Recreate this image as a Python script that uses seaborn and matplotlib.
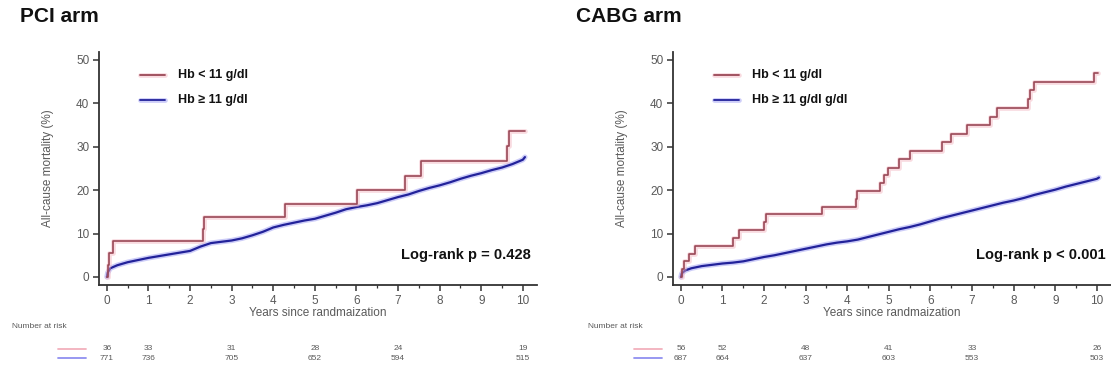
import matplotlib
matplotlib.use("Agg")
import matplotlib.pyplot as plt
from matplotlib.ticker import MultipleLocator
import pandas as pd
import seaborn as sns

sns.set_theme(style="ticks")
plt.rcParams["font.family"] = ["Liberation Sans", "DejaVu Sans"]

# ---- Kaplan-Meier curves (cumulative mortality, %) ----
pci_low_t = [0, 0.02, 0.05, 0.15, 2.32, 2.34, 4.27, 6.01, 7.17, 7.56, 9.62, 9.66, 10.05]
pci_low_v = [0, 2.8, 5.6, 8.3, 11.1, 13.9, 16.7, 20.0, 23.3, 26.7, 30.1, 33.6, 33.6]

pci_high_t = [0, 0.02, 0.08, 0.25, 0.5, 0.75, 1.0, 1.25, 1.5, 1.75, 2.0, 2.25, 2.5, 2.75,
              3.0, 3.25, 3.5, 3.75, 4.0, 4.25, 4.5, 4.75, 5.0, 5.25, 5.5, 5.75, 6.0, 6.25,
              6.5, 6.75, 7.0, 7.25, 7.5, 7.75, 8.0, 8.25, 8.5, 8.75, 9.0, 9.25, 9.5, 9.75,
              10.0, 10.05]
pci_high_v = [0, 1.0, 2.0, 2.7, 3.4, 3.9, 4.4, 4.8, 5.2, 5.6, 6.0, 7.0, 7.8, 8.1,
              8.4, 8.9, 9.6, 10.4, 11.4, 12.0, 12.5, 13.0, 13.4, 14.1, 14.8, 15.6, 16.1, 16.5,
              17.0, 17.7, 18.4, 19.0, 19.8, 20.5, 21.1, 21.8, 22.6, 23.3, 23.9, 24.6, 25.2, 26.0,
              27.0, 27.6]

cabg_low_t = [0, 0.02, 0.07, 0.2, 0.35, 1.26, 1.39, 2.0, 2.04, 3.40, 4.2, 4.24, 4.78, 4.88,
              4.99, 5.25, 5.5, 6.28, 6.49, 6.88, 7.44, 7.61, 8.34, 8.4, 8.5, 9.93, 10.02]
cabg_low_v = [0, 1.8, 3.6, 5.4, 7.2, 9.0, 10.8, 12.6, 14.4, 16.2, 18.0, 19.8, 21.6, 23.4,
              25.2, 27.1, 29.1, 31.0, 33.0, 34.9, 36.9, 38.9, 41.0, 43.0, 45.0, 47.0, 47.0]

cabg_high_t = [0, 0.02, 0.1, 0.25, 0.5, 0.75, 1.0, 1.25, 1.5, 1.75, 2.0, 2.25, 2.5, 2.75,
               3.0, 3.25, 3.5, 3.75, 4.0, 4.25, 4.5, 4.75, 5.0, 5.25, 5.5, 5.75, 6.0, 6.25,
               6.5, 6.75, 7.0, 7.25, 7.5, 7.75, 8.0, 8.25, 8.5, 8.75, 9.0, 9.25, 9.5, 9.75,
               10.0, 10.05]
cabg_high_v = [0, 0.8, 1.5, 2.0, 2.5, 2.8, 3.1, 3.3, 3.6, 4.1, 4.6, 5.0, 5.5, 6.0,
               6.5, 7.0, 7.5, 7.9, 8.2, 8.6, 9.2, 9.8, 10.4, 11.0, 11.5, 12.1, 12.8, 13.5,
               14.1, 14.7, 15.3, 15.9, 16.5, 17.1, 17.6, 18.2, 18.9, 19.5, 20.1, 20.8, 21.4, 22.0,
               22.6, 22.9]

# ---- numbers at risk ----
risk_years = [0, 1, 3, 5, 7, 10]
pci_risk_low = [36, 33, 31, 28, 24, 19]
pci_risk_high = [771, 736, 705, 652, 594, 515]
cabg_risk_low = [56, 52, 48, 41, 33, 26]
cabg_risk_high = [687, 664, 637, 603, 553, 503]

titles = ["PCI arm", "CABG arm"]
legend_low = ["Hb < 11 g/dl", "Hb < 11 g/dl"]
legend_high = ["Hb \u2265 11 g/dl", "Hb \u2265 11 g/dl g/dl"]
logrank = ["Log-rank p = 0.428", "Log-rank p < 0.001"]

RED = "#9a4856"
RED_HALO = "#f2b0bc"
BLUE = "#22229a"
BLUE_HALO = "#9090f0"
GREY = "#5a5a5a"

W, H = 1111, 374
fig = plt.figure(figsize=(W / 100, H / 100), dpi=100)

panels = [
    dict(left=99, low=(pci_low_t, pci_low_v), high=(pci_high_t, pci_high_v),
         rl=pci_risk_low, rh=pci_risk_high, title_x=20, risk_x=12),
    dict(left=673, low=(cabg_low_t, cabg_low_v), high=(cabg_high_t, cabg_high_v),
         rl=cabg_risk_low, rh=cabg_risk_high, title_x=576, risk_x=588),
]

ax_w, ax_bottom, ax_top = 438, 285, 52


def draw_curve(ax, t, v, color, halo, steps, lw):
    df = pd.DataFrame({"t": t, "v": v})
    kw = dict(drawstyle="steps-post") if steps else {}
    sns.lineplot(data=df, x="t", y="v", ax=ax, color=halo, linewidth=lw + 2.2, alpha=0.45,
                 estimator=None, sort=False, **kw)
    sns.lineplot(data=df, x="t", y="v", ax=ax, color=color, linewidth=lw,
                 estimator=None, sort=False, **kw)


for i, p in enumerate(panels):
    ax = fig.add_axes([p["left"] / W, 1 - ax_bottom / H, ax_w / W, (ax_bottom - ax_top) / H])
    draw_curve(ax, *p["high"], BLUE, BLUE_HALO, steps=False, lw=1.6)
    draw_curve(ax, *p["low"], RED, RED_HALO, steps=True, lw=1.2)

    ax.set_xlim(-0.19, 10.34)
    ax.set_ylim(-1.85, 51.8)
    ax.set_xticks(range(0, 11))
    ax.set_yticks(range(0, 51, 10))
    ax.xaxis.set_minor_locator(MultipleLocator(0.5))
    ax.tick_params(axis="both", which="major", direction="out", length=4, width=1.1,
                   colors="#333333", labelcolor=GREY, labelsize=8.5, pad=3)
    ax.tick_params(axis="x", which="minor", direction="out", length=2, width=0.9, colors="#333333")
    for s in ("top", "right"):
        ax.spines[s].set_visible(False)
    for s in ("left", "bottom"):
        ax.spines[s].set_color("#333333")
        ax.spines[s].set_linewidth(1.3)
    ax.set_xlabel("Years since randmaization", fontsize=8.5, color=GREY, labelpad=0)
    ax.set_ylabel("All-cause mortality (%)", fontsize=8.5, color=GREY, labelpad=16)

    # legend
    for yv, col, halo in ((46.5, RED, RED_HALO), (40.8, BLUE, BLUE_HALO)):
        ax.plot([0.8, 1.4], [yv, yv], color=halo, lw=3.4, alpha=0.45)
        ax.plot([0.8, 1.4], [yv, yv], color=col, lw=1.3)
    ax.text(1.7, 46.5, legend_low[i], fontsize=9, fontweight="bold", va="center", color="#111111")
    ax.text(1.7, 40.8, legend_high[i], fontsize=9, fontweight="bold", va="center", color="#111111")

    ax.text(10.2, 5.0, logrank[i], fontsize=10.5, fontweight="bold", ha="right", va="center",
            color="#111111")

    # title
    fig.text(p["title_x"] / W, 1 - 16 / H, titles[i], fontsize=15, fontweight="bold",
             va="center", ha="left", color="#111111")

    # number-at-risk table
    fig.text(p["risk_x"] / W, 1 - 326 / H, "Number at risk", fontsize=6, color=GREY,
             va="center", ha="left")
    trans = ax.get_xaxis_transform()
    for yr, lo, hi in zip(risk_years, p["rl"], p["rh"]):
        ax.text(yr, 1 - (349 - ax_top) / (ax_bottom - ax_top), str(lo), transform=trans,
                fontsize=6, color=GREY, ha="center", va="center", clip_on=False)
        ax.text(yr, 1 - (358 - ax_top) / (ax_bottom - ax_top), str(hi), transform=trans,
                fontsize=6, color=GREY, ha="center", va="center", clip_on=False)
    x0 = p["risk_x"] + 46
    fig.add_artist(plt.Line2D([x0 / W, (x0 + 28) / W], [1 - 349 / H] * 2, color=RED_HALO, lw=1.3))
    fig.add_artist(plt.Line2D([x0 / W, (x0 + 28) / W], [1 - 358 / H] * 2, color=BLUE_HALO, lw=1.3))

fig.savefig("out.png", dpi=100)
